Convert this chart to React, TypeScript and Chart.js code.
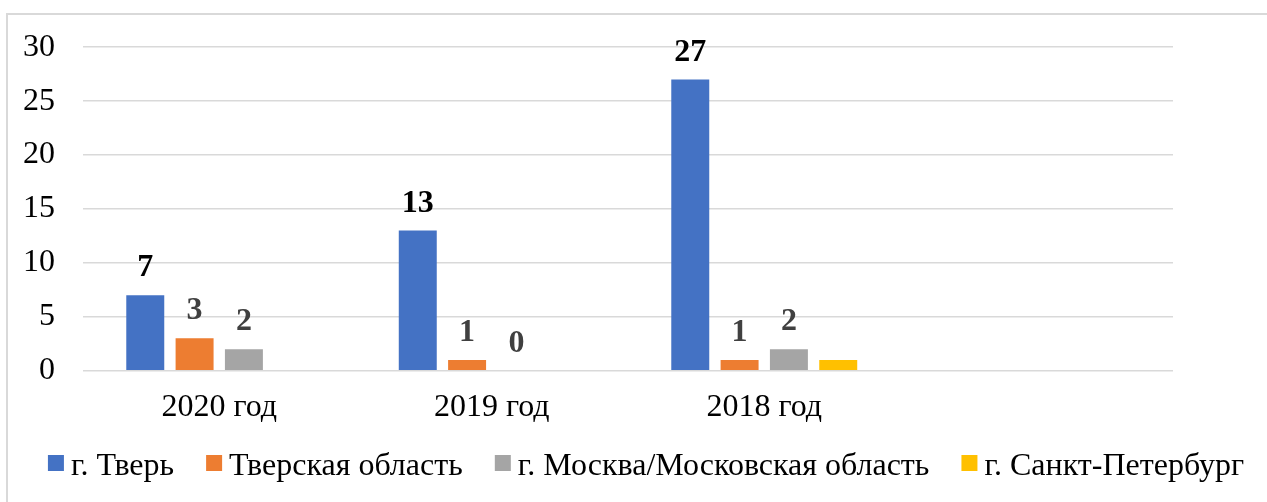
import React, { useEffect, useRef } from 'react';
import { Chart, registerables } from 'chart.js';

Chart.register(...registerables);

const categories = ['2020 год', '2019 год', '2018 год', ''];
const seriesNames = ['г. Тверь', 'Тверская область', 'г. Москва/Московская область', 'г. Санкт-Петербург'];
const tver = [7, 13, 27];
const tverRegion = [3, 1, 1];
const moscow = [2, 0, 2];
const spb = [0, 0, 1];
const seriesColors = ['#4472C4', '#ED7D31', '#A5A5A5', '#FFC000'];
const labelColors: (string | null)[] = ['#000000', '#404040', '#404040', null];
const yMin = 0;
const yMax = 30;
const yStep = 5;

const FONT = '"Liberation Serif", "Times New Roman", serif';

const valueLabels = {
  id: 'valueLabels',
  afterDatasetsDraw(chart: any) {
    const ctx = chart.ctx;
    ctx.save();
    ctx.font = `bold 32px ${FONT}`;
    ctx.textAlign = 'center';
    ctx.textBaseline = 'alphabetic';
    chart.data.datasets.forEach((ds: any, i: number) => {
      const color = labelColors[i];
      if (!color) return;
      const meta = chart.getDatasetMeta(i);
      meta.data.forEach((bar: any, j: number) => {
        const v = ds.data[j];
        if (v === null || v === undefined) return;
        ctx.fillStyle = color;
        ctx.fillText(String(v), bar.x, bar.y - 19);
      });
    });
    ctx.restore();
  },
};

const customLegend = {
  id: 'customLegend',
  afterDraw(chart: any) {
    const ctx = chart.ctx;
    ctx.save();
    ctx.font = `32px ${FONT}`;
    ctx.textBaseline = 'alphabetic';
    ctx.textAlign = 'left';
    const box = 16;
    const gapBoxText = 7;
    const gapItems = 32;
    const items = chart.data.datasets.map((ds: any) => ({
      text: ds.label as string,
      color: ds.backgroundColor as string,
      w: ctx.measureText(ds.label).width,
    }));
    const total =
      items.reduce((s: number, it: any) => s + box + gapBoxText + it.w, 0) + gapItems * (items.length - 1);
    const centerX = 646;
    let x = centerX - total / 2;
    items.forEach((it: any) => {
      ctx.fillStyle = it.color;
      ctx.fillRect(x, 455, box, box);
      ctx.fillStyle = '#000000';
      ctx.fillText(it.text, x + box + gapBoxText, 475);
      x += box + gapBoxText + it.w + gapItems;
    });
    ctx.restore();
  },
};

export default function App() {
  const ref = useRef<HTMLCanvasElement | null>(null);

  useEffect(() => {
    if (!ref.current) return;
    const data = [tver, tverRegion, moscow, spb];
    const chart = new Chart(ref.current, {
      type: 'bar',
      data: {
        labels: categories,
        datasets: data.map((d, i) => ({
          label: seriesNames[i],
          data: d,
          backgroundColor: seriesColors[i],
          borderWidth: 0,
          categoryPercentage: 0.724,
          barPercentage: 0.77,
        })),
      },
      options: {
        animation: false,
        responsive: false,
        layout: { padding: { top: 44, right: 94, bottom: 0, left: 0 } },
        plugins: {
          legend: { display: false },
          tooltip: { enabled: false },
        },
        scales: {
          x: {
            grid: { display: false, drawTicks: false },
            border: { display: false },
            ticks: {
              color: '#000000',
              font: { family: FONT, size: 32 },
              padding: 18,
              maxRotation: 0,
              autoSkip: false,
            },
            afterFit: (scale: any) => {
              scale.height = 131.3;
            },
          },
          y: {
            min: yMin,
            max: yMax,
            grid: { color: '#d9d9d9', lineWidth: 1.5, drawTicks: false },
            border: { display: false },
            ticks: {
              stepSize: yStep,
              color: '#000000',
              font: { family: FONT, size: 32 },
              padding: 28,
            },
            afterFit: (scale: any) => {
              scale.width = 83;
            },
          },
        },
      },
      plugins: [valueLabels, customLegend],
    });
    return () => chart.destroy();
  }, []);

  return (
    <div
      style={{
        position: 'fixed',
        left: 0,
        top: 0,
        width: 1267,
        height: 502,
        overflow: 'hidden',
        background: '#ffffff',
      }}
    >
      <div
        style={{
          position: 'absolute',
          left: 6,
          top: 13,
          width: 1300,
          height: 600,
          border: '2px solid #d9d9d9',
          boxSizing: 'border-box',
        }}
      />
      <canvas
        ref={ref}
        width={1267}
        height={502}
        style={{ position: 'absolute', left: 0, top: 0, width: 1267, height: 502 }}
      />
    </div>
  );
}
